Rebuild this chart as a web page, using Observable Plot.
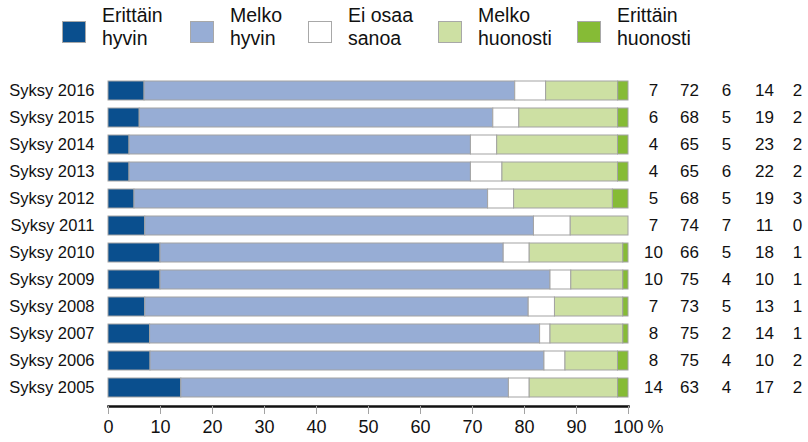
<!DOCTYPE html>
<html>
<head>
<meta charset="utf-8">
<script src="https://cdn.jsdelivr.net/npm/d3@7"></script>
<script src="https://cdn.jsdelivr.net/npm/@observablehq/plot@0.6"></script>
<style>
  html, body { margin: 0; padding: 0; background: #fff; }
  body { width: 808px; height: 442px; overflow: hidden; font-family: "Liberation Sans", Arial, sans-serif; color: #111; }
  #wrap { position: relative; width: 808px; height: 442px; }
  #legend { position: absolute; left: 0; top: 0; width: 808px; height: 62px; }
  .item { position: absolute; top: 0; height: 62px; }
  .sw { position: absolute; top: 21px; width: 22px; height: 20px; border: 1px solid #a8a8a8; }
  .lab { position: absolute; left: 40px; top: 4px; font-size: 19.5px; line-height: 23px; white-space: nowrap; }
  #chart { position: absolute; left: 0; top: 62px; }
  #chart svg { font-family: "Liberation Sans", Arial, sans-serif; }
</style>
</head>
<body>
<div id="wrap">
  <div id="legend"></div>
  <div id="chart"></div>
</div>
<script>
// ---- data ----
const years = ["Syksy 2016","Syksy 2015","Syksy 2014","Syksy 2013","Syksy 2012","Syksy 2011",
               "Syksy 2010","Syksy 2009","Syksy 2008","Syksy 2007","Syksy 2006","Syksy 2005"];
const categories = ["Erittäin hyvin","Melko hyvin","Ei osaa sanoa","Melko huonosti","Erittäin huonosti"];
const legendLines = [["Erittäin","hyvin"],["Melko","hyvin"],["Ei osaa","sanoa"],["Melko","huonosti"],["Erittäin","huonosti"]];
const erittainHyvin    = [7, 6, 4, 4, 5, 7, 10, 10, 7, 8, 8, 14];
const melkoHyvin       = [72, 68, 65, 65, 68, 74, 66, 75, 73, 75, 75, 63];
const eiOsaaSanoa      = [6, 5, 5, 6, 5, 7, 5, 4, 5, 2, 4, 4];
const melkoHuonosti    = [14, 19, 23, 22, 19, 11, 18, 10, 13, 14, 10, 17];
const erittainHuonosti = [2, 2, 2, 2, 3, 0, 1, 1, 1, 1, 2, 2];
const xTicks = [0, 10, 20, 30, 40, 50, 60, 70, 80, 90, 100];
const unitLabel = "%";

const colors = ["#0a4f8e", "#97add5", "#ffffff", "#cde0a3", "#86bb36"];
const series = [erittainHyvin, melkoHyvin, eiOsaaSanoa, melkoHuonosti, erittainHuonosti];

// tidy rows, bars normalised to 100 %
const rows = [];
years.forEach((y, i) => {
  const sum = d3.sum(series, s => s[i]);
  series.forEach((s, k) => rows.push({year: y, cat: categories[k], value: s[i], pct: s[i] / sum * 100}));
});
const table = years.map((y, i) => ({year: y, vals: series.map(s => s[i])}));

// ---- legend ----
const legendX = [62, 190, 308, 438, 577];
const legend = document.getElementById("legend");
categories.forEach((c, k) => {
  const it = document.createElement("div");
  it.className = "item";
  it.style.left = legendX[k] + "px";
  const sw = document.createElement("div");
  sw.className = "sw";
  sw.style.background = colors[k];
  const lab = document.createElement("div");
  lab.className = "lab";
  lab.innerHTML = legendLines[k].join("<br>");
  it.appendChild(sw); it.appendChild(lab);
  legend.appendChild(it);
});

// ---- chart ----
const colDx = [25, 61, 98, 136, 169];
const plot = Plot.plot({
  width: 808,
  height: 380,
  marginLeft: 108,
  marginRight: 180,
  marginTop: 10,
  marginBottom: 36,
  style: {fontSize: "16px", color: "#111", background: "transparent", overflow: "visible"},
  x: {domain: [0, 100], label: null},
  y: {domain: years, paddingInner: 0.28, paddingOuter: 0.14, label: null},
  color: {domain: categories, range: colors},
  marks: [
    Plot.barX(rows, {x: "pct", y: "year", z: "cat", fill: "cat", stroke: "#a3a3a3", strokeWidth: 1, inset: 0}),
    Plot.frame({anchor: "bottom", stroke: "#111", strokeWidth: 2.5}),
    Plot.axisX({ticks: xTicks, tickSize: 8, stroke: "#a3a3a3", tickPadding: 6, fontSize: 18, fill: "#111", label: null}),
    Plot.text([unitLabel], {x: () => 100, frameAnchor: "bottom", dy: 26, dx: 19, textAnchor: "start", fontSize: 18, fill: "#111", text: d => d}),
    Plot.axisY({tickSize: 0, tickPadding: 14, fontSize: 16.5, fill: "#111", label: null}),
    ...colDx.map((dx, k) => Plot.text(table, {
      x: () => 100, y: "year", text: d => String(d.vals[k]), dx, textAnchor: "middle", fontSize: 17, fill: "#111"
    }))
  ]
});
document.getElementById("chart").appendChild(plot);
</script>
</body>
</html>
